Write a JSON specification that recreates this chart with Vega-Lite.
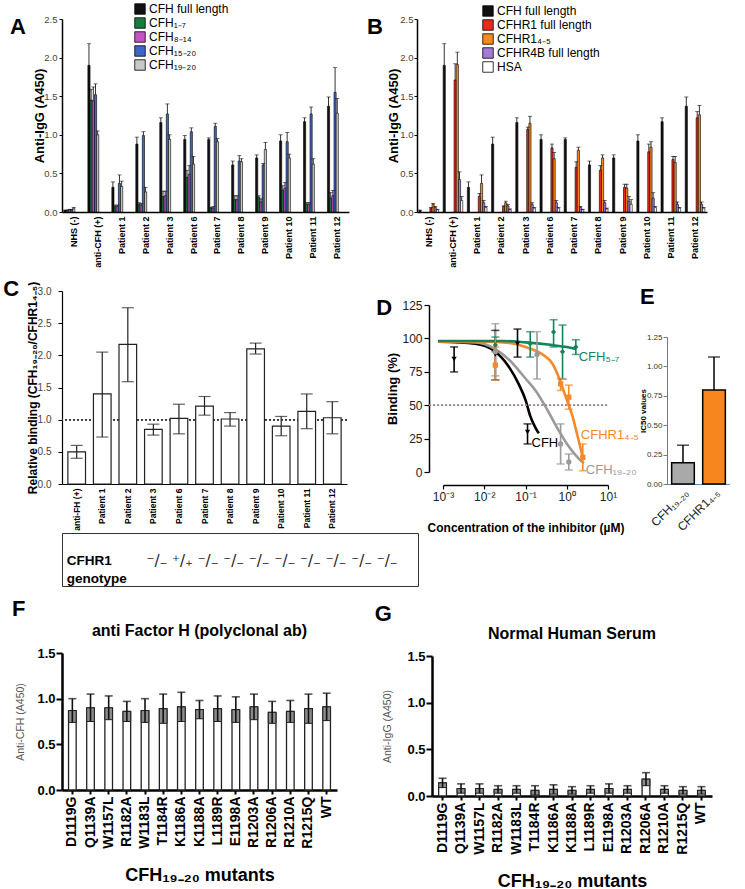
{
"$schema":"https://vega.github.io/schema/vega-lite/v6.json",
"background":"white",
"padding":{"left":3,"top":3,"right":0,"bottom":0},
"config":{
 "font":"Liberation Sans",
 "view":{"stroke":null},
 "axis":{"grid":false,"domainColor":"#000","tickColor":"#000","labelColor":"#000","titleColor":"#000","labelFont":"Liberation Sans","titleFont":"Liberation Sans","labelOverlap":false},
 "legend":{"labelFont":"Liberation Sans","labelColor":"#000"},
 "title":{"font":"Liberation Sans","color":"#000"},
 "text":{"font":"Liberation Sans"}
},
"datasets":{
 "dA":[
  {"g":"NHS (-)","s":"CFH full length","v":0.02,"e":0.025},{"g":"NHS (-)","s":"CFH₁₋₇","v":0.02,"e":0.025},{"g":"NHS (-)","s":"CFH₈₋₁₄","v":0.03,"e":0.035},{"g":"NHS (-)","s":"CFH₁₅₋₂₀","v":0.03,"e":0.035},{"g":"NHS (-)","s":"CFH₁₉₋₂₀","v":0.05,"e":0.06},
  {"g":"anti-CFH (+)","s":"CFH full length","v":1.9,"e":2.18},{"g":"anti-CFH (+)","s":"CFH₁₋₇","v":1.45,"e":1.59},{"g":"anti-CFH (+)","s":"CFH₈₋₁₄","v":1.44,"e":1.62},{"g":"anti-CFH (+)","s":"CFH₁₅₋₂₀","v":1.52,"e":1.66},{"g":"anti-CFH (+)","s":"CFH₁₉₋₂₀","v":1.0,"e":1.05},
  {"g":"Patient 1","s":"CFH full length","v":0.32,"e":0.39},{"g":"Patient 1","s":"CFH₁₋₇","v":0.07,"e":0.09},{"g":"Patient 1","s":"CFH₈₋₁₄","v":0.07,"e":0.09},{"g":"Patient 1","s":"CFH₁₅₋₂₀","v":0.37,"e":0.48},{"g":"Patient 1","s":"CFH₁₉₋₂₀","v":0.33,"e":0.40},
  {"g":"Patient 2","s":"CFH full length","v":0.88,"e":0.97},{"g":"Patient 2","s":"CFH₁₋₇","v":0.10,"e":0.12},{"g":"Patient 2","s":"CFH₈₋₁₄","v":0.09,"e":0.11},{"g":"Patient 2","s":"CFH₁₅₋₂₀","v":0.99,"e":1.04},{"g":"Patient 2","s":"CFH₁₉₋₂₀","v":0.26,"e":0.32},
  {"g":"Patient 3","s":"CFH full length","v":1.16,"e":1.22},{"g":"Patient 3","s":"CFH₁₋₇","v":0.20,"e":0.27},{"g":"Patient 3","s":"CFH₈₋₁₄","v":0.21,"e":0.27},{"g":"Patient 3","s":"CFH₁₅₋₂₀","v":1.27,"e":1.40},{"g":"Patient 3","s":"CFH₁₉₋₂₀","v":0.94,"e":1.00},
  {"g":"Patient 6","s":"CFH full length","v":0.94,"e":0.99},{"g":"Patient 6","s":"CFH₁₋₇","v":0.45,"e":0.54},{"g":"Patient 6","s":"CFH₈₋₁₄","v":0.49,"e":0.60},{"g":"Patient 6","s":"CFH₁₅₋₂₀","v":1.04,"e":1.09},{"g":"Patient 6","s":"CFH₁₉₋₂₀","v":0.62,"e":0.72},
  {"g":"Patient 7","s":"CFH full length","v":0.94,"e":0.96},{"g":"Patient 7","s":"CFH₁₋₇","v":0.05,"e":0.06},{"g":"Patient 7","s":"CFH₈₋₁₄","v":0.05,"e":0.07},{"g":"Patient 7","s":"CFH₁₅₋₂₀","v":1.11,"e":1.15},{"g":"Patient 7","s":"CFH₁₉₋₂₀","v":0.91,"e":0.95},
  {"g":"Patient 8","s":"CFH full length","v":0.61,"e":0.66},{"g":"Patient 8","s":"CFH₁₋₇","v":0.16,"e":0.21},{"g":"Patient 8","s":"CFH₈₋₁₄","v":0.16,"e":0.21},{"g":"Patient 8","s":"CFH₁₅₋₂₀","v":0.66,"e":0.73},{"g":"Patient 8","s":"CFH₁₉₋₂₀","v":0.65,"e":0.69},
  {"g":"Patient 9","s":"CFH full length","v":0.70,"e":0.74},{"g":"Patient 9","s":"CFH₁₋₇","v":0.19,"e":0.21},{"g":"Patient 9","s":"CFH₈₋₁₄","v":0.13,"e":0.17},{"g":"Patient 9","s":"CFH₁₅₋₂₀","v":0.61,"e":0.63},{"g":"Patient 9","s":"CFH₁₉₋₂₀","v":0.81,"e":0.90},
  {"g":"Patient 10","s":"CFH full length","v":0.92,"e":1.00},{"g":"Patient 10","s":"CFH₁₋₇","v":0.28,"e":0.34},{"g":"Patient 10","s":"CFH₈₋₁₄","v":0.31,"e":0.38},{"g":"Patient 10","s":"CFH₁₅₋₂₀","v":0.91,"e":1.03},{"g":"Patient 10","s":"CFH₁₉₋₂₀","v":0.70,"e":0.75},
  {"g":"Patient 11","s":"CFH full length","v":1.17,"e":1.22},{"g":"Patient 11","s":"CFH₁₋₇","v":0.10,"e":0.12},{"g":"Patient 11","s":"CFH₈₋₁₄","v":0.10,"e":0.12},{"g":"Patient 11","s":"CFH₁₅₋₂₀","v":1.27,"e":1.36},{"g":"Patient 11","s":"CFH₁₉₋₂₀","v":0.62,"e":0.69},
  {"g":"Patient 12","s":"CFH full length","v":1.37,"e":1.49},{"g":"Patient 12","s":"CFH₁₋₇","v":0.18,"e":0.25},{"g":"Patient 12","s":"CFH₈₋₁₄","v":0.21,"e":0.28},{"g":"Patient 12","s":"CFH₁₅₋₂₀","v":1.55,"e":1.87},{"g":"Patient 12","s":"CFH₁₉₋₂₀","v":1.28,"e":1.47}
 ],
 "dB":[
  {"g":"NHS (-)","s":"CFH full length","v":0.02,"e":0.025},{"g":"NHS (-)","s":"CFHR1 full length","v":0.05,"e":0.06},{"g":"NHS (-)","s":"CFHR1₄₋₅","v":0.10,"e":0.11},{"g":"NHS (-)","s":"CFHR4B full length","v":0.06,"e":0.07},{"g":"NHS (-)","s":"HSA","v":0.03,"e":0.035},
  {"g":"anti-CFH (+)","s":"CFH full length","v":1.9,"e":2.18},{"g":"anti-CFH (+)","s":"CFHR1 full length","v":1.71,"e":1.92},{"g":"anti-CFH (+)","s":"CFHR1₄₋₅","v":1.91,"e":2.07},{"g":"anti-CFH (+)","s":"CFHR4B full length","v":0.42,"e":0.52},{"g":"anti-CFH (+)","s":"HSA","v":0.15,"e":0.20},
  {"g":"Patient 1","s":"CFH full length","v":0.32,"e":0.39},{"g":"Patient 1","s":"CFHR1 full length","v":0.20,"e":0.24},{"g":"Patient 1","s":"CFHR1₄₋₅","v":0.37,"e":0.48},{"g":"Patient 1","s":"CFHR4B full length","v":0.12,"e":0.15},{"g":"Patient 1","s":"HSA","v":0.06,"e":0.07},
  {"g":"Patient 2","s":"CFH full length","v":0.88,"e":0.97},{"g":"Patient 2","s":"CFHR1 full length","v":0.07,"e":0.08},{"g":"Patient 2","s":"CFHR1₄₋₅","v":0.12,"e":0.14},{"g":"Patient 2","s":"CFHR4B full length","v":0.08,"e":0.10},{"g":"Patient 2","s":"HSA","v":0.03,"e":0.04},
  {"g":"Patient 3","s":"CFH full length","v":1.16,"e":1.22},{"g":"Patient 3","s":"CFHR1 full length","v":1.07,"e":1.10},{"g":"Patient 3","s":"CFHR1₄₋₅","v":1.15,"e":1.24},{"g":"Patient 3","s":"CFHR4B full length","v":0.10,"e":0.12},{"g":"Patient 3","s":"HSA","v":0.05,"e":0.06},
  {"g":"Patient 6","s":"CFH full length","v":0.94,"e":1.00},{"g":"Patient 6","s":"CFHR1 full length","v":0.83,"e":0.88},{"g":"Patient 6","s":"CFHR1₄₋₅","v":0.69,"e":0.77},{"g":"Patient 6","s":"CFHR4B full length","v":0.12,"e":0.15},{"g":"Patient 6","s":"HSA","v":0.05,"e":0.06},
  {"g":"Patient 7","s":"CFH full length","v":0.94,"e":0.96},{"g":"Patient 7","s":"CFHR1 full length","v":0.58,"e":0.65},{"g":"Patient 7","s":"CFHR1₄₋₅","v":0.80,"e":0.84},{"g":"Patient 7","s":"CFHR4B full length","v":0.06,"e":0.07},{"g":"Patient 7","s":"HSA","v":0.03,"e":0.035},
  {"g":"Patient 8","s":"CFH full length","v":0.61,"e":0.66},{"g":"Patient 8","s":"CFHR1 full length","v":0.54,"e":0.60},{"g":"Patient 8","s":"CFHR1₄₋₅","v":0.70,"e":0.74},{"g":"Patient 8","s":"CFHR4B full length","v":0.12,"e":0.15},{"g":"Patient 8","s":"HSA","v":0.04,"e":0.05},
  {"g":"Patient 9","s":"CFH full length","v":0.70,"e":0.74},{"g":"Patient 9","s":"CFHR1 full length","v":0.32,"e":0.36},{"g":"Patient 9","s":"CFHR1₄₋₅","v":0.31,"e":0.36},{"g":"Patient 9","s":"CFHR4B full length","v":0.14,"e":0.20},{"g":"Patient 9","s":"HSA","v":0.10,"e":0.16},
  {"g":"Patient 10","s":"CFH full length","v":0.92,"e":1.00},{"g":"Patient 10","s":"CFHR1 full length","v":0.78,"e":0.88},{"g":"Patient 10","s":"CFHR1₄₋₅","v":0.84,"e":0.91},{"g":"Patient 10","s":"CFHR4B full length","v":0.18,"e":0.25},{"g":"Patient 10","s":"HSA","v":0.06,"e":0.07},
  {"g":"Patient 11","s":"CFH full length","v":1.17,"e":1.22},{"g":"Patient 11","s":"CFHR1 full length","v":0.68,"e":0.72},{"g":"Patient 11","s":"CFHR1₄₋₅","v":0.64,"e":0.72},{"g":"Patient 11","s":"CFHR4B full length","v":0.10,"e":0.13},{"g":"Patient 11","s":"HSA","v":0.05,"e":0.06},
  {"g":"Patient 12","s":"CFH full length","v":1.37,"e":1.49},{"g":"Patient 12","s":"CFHR1 full length","v":1.22,"e":1.30},{"g":"Patient 12","s":"CFHR1₄₋₅","v":1.26,"e":1.38},{"g":"Patient 12","s":"CFHR4B full length","v":0.10,"e":0.13},{"g":"Patient 12","s":"HSA","v":0.05,"e":0.06}
 ],
 "dC":[
  {"g":"anti-FH (+)","v":0.5,"lo":0.4,"hi":0.6},
  {"g":"Patient 1","v":1.4,"lo":0.73,"hi":2.05},
  {"g":"Patient 2","v":2.17,"lo":1.59,"hi":2.74},
  {"g":"Patient 3","v":0.85,"lo":0.76,"hi":0.93},
  {"g":"Patient 6","v":1.02,"lo":0.78,"hi":1.24},
  {"g":"Patient 7","v":1.21,"lo":1.07,"hi":1.36},
  {"g":"Patient 8","v":1.01,"lo":0.9,"hi":1.11},
  {"g":"Patient 9","v":2.1,"lo":2.02,"hi":2.19},
  {"g":"Patient 10","v":0.9,"lo":0.75,"hi":1.05},
  {"g":"Patient 11","v":1.13,"lo":0.86,"hi":1.4},
  {"g":"Patient 12","v":1.03,"lo":0.78,"hi":1.28}
 ],
 "dGeno":[
  {"g":"hdr","row":"CFHR1","t":"CFHR1"},
  {"g":"hdr","row":"genotype","t":"genotype"},
  {"g":"Patient 1","row":"CFHR1","t":"⁻/₋"},
  {"g":"Patient 2","row":"CFHR1","t":"⁺/₊"},
  {"g":"Patient 3","row":"CFHR1","t":"⁻/₋"},
  {"g":"Patient 6","row":"CFHR1","t":"⁻/₋"},
  {"g":"Patient 7","row":"CFHR1","t":"⁻/₋"},
  {"g":"Patient 8","row":"CFHR1","t":"⁻/₋"},
  {"g":"Patient 9","row":"CFHR1","t":"⁻/₋"},
  {"g":"Patient 10","row":"CFHR1","t":"⁻/₋"},
  {"g":"Patient 11","row":"CFHR1","t":"⁻/₋"},
  {"g":"Patient 12","row":"CFHR1","t":"⁻/₋"}
 ],
 "dCurve":[
  {"s":"CFH","c":0.00076,"b":97.5},{"s":"CFH","c":0.006,"b":96},{"s":"CFH","c":0.0186,"b":90},{"s":"CFH","c":0.039,"b":79},{"s":"CFH","c":0.068,"b":66},{"s":"CFH","c":0.1,"b":54},{"s":"CFH","c":0.13,"b":42},{"s":"CFH","c":0.175,"b":33},{"s":"CFH","c":0.21,"b":29},
  {"s":"CFH₁₉₋₂₀","c":0.00076,"b":97.5},{"s":"CFH₁₉₋₂₀","c":0.006,"b":97},{"s":"CFH₁₉₋₂₀","c":0.0186,"b":92},{"s":"CFH₁₉₋₂₀","c":0.04,"b":84},{"s":"CFH₁₉₋₂₀","c":0.1,"b":70},{"s":"CFH₁₉₋₂₀","c":0.175,"b":61},{"s":"CFH₁₉₋₂₀","c":0.31,"b":48.6},{"s":"CFH₁₉₋₂₀","c":0.64,"b":31},{"s":"CFH₁₉₋₂₀","c":1.12,"b":19},{"s":"CFH₁₉₋₂₀","c":1.95,"b":10},{"s":"CFH₁₉₋₂₀","c":2.6,"b":6.5},
  {"s":"CFHR1₄₋₅","c":0.00076,"b":97.5},{"s":"CFHR1₄₋₅","c":0.01,"b":97.5},{"s":"CFHR1₄₋₅","c":0.04,"b":96.5},{"s":"CFHR1₄₋₅","c":0.1,"b":93.5},{"s":"CFHR1₄₋₅","c":0.26,"b":88},{"s":"CFHR1₄₋₅","c":0.45,"b":81},{"s":"CFHR1₄₋₅","c":0.64,"b":71},{"s":"CFHR1₄₋₅","c":0.95,"b":56},{"s":"CFHR1₄₋₅","c":1.4,"b":41},{"s":"CFHR1₄₋₅","c":1.86,"b":26},{"s":"CFHR1₄₋₅","c":2.45,"b":11},
  {"s":"CFH₅₋₇","c":0.00076,"b":98},{"s":"CFH₅₋₇","c":0.03,"b":98},{"s":"CFH₅₋₇","c":0.1,"b":97},{"s":"CFH₅₋₇","c":0.45,"b":95},{"s":"CFH₅₋₇","c":1.0,"b":93.5},{"s":"CFH₅₋₇","c":1.66,"b":92}
 ],
 "dPts":[
  {"s":"CFH","c":0.00186,"m":84.6,"lo":74.9,"hi":93.6},{"s":"CFH","c":0.0186,"m":88,"lo":69,"hi":106},{"s":"CFH","c":0.064,"m":96,"lo":86,"hi":107},{"s":"CFH","c":0.112,"m":30,"lo":21,"hi":36},
  {"s":"CFH₅₋₇","c":0.0186,"m":95,"lo":90,"hi":101},{"s":"CFH₅₋₇","c":0.13,"m":96,"lo":86,"hi":105},{"s":"CFH₅₋₇","c":0.48,"m":104.8,"lo":93.6,"hi":114},{"s":"CFH₅₋₇","c":0.79,"m":90,"lo":69.6,"hi":110},{"s":"CFH₅₋₇","c":1.66,"m":93.6,"lo":88,"hi":99},
  {"s":"CFH₁₉₋₂₀","c":0.0186,"m":90,"lo":72,"hi":111},{"s":"CFH₁₉₋₂₀","c":0.19,"m":88,"lo":69.6,"hi":105},{"s":"CFH₁₉₋₂₀","c":0.71,"m":21,"lo":6,"hi":36},{"s":"CFH₁₉₋₂₀","c":1.12,"m":7.5,"lo":1.5,"hi":13.5},
  {"s":"CFHR1₄₋₅","c":0.0186,"m":80,"lo":69,"hi":93.5},{"s":"CFHR1₄₋₅","c":0.71,"m":66,"lo":61,"hi":70},{"s":"CFHR1₄₋₅","c":1.12,"m":56,"lo":47,"hi":65},{"s":"CFHR1₄₋₅","c":2.45,"m":11,"lo":1,"hi":21}
 ],
 "dLab":[
  {"s":"CFH₅₋₇","c":1.95,"b":86,"t":"CFH₅₋₇"},
  {"s":"CFHR1₄₋₅","c":2.2,"b":28,"t":"CFHR1₄₋₅"},
  {"s":"CFH","c":0.14,"b":22,"t":"CFH"},
  {"s":"CFH₁₉₋₂₀","c":2.9,"b":1.5,"t":"CFH₁₉₋₂₀"}
 ],
 "dE":[
  {"g":"CFH₁₉₋₂₀","v":0.18,"e":0.33},
  {"g":"CFHR1₄₋₅","v":0.8,"e":1.08}
 ],
 "dF":[
  {"g":"D1119G","v":0.87,"lo":0.74,"hi":1.0},{"g":"Q1139A","v":0.90,"lo":0.75,"hi":1.05},{"g":"W1157L","v":0.90,"lo":0.77,"hi":1.03},{"g":"R1182A","v":0.86,"lo":0.75,"hi":0.97},{"g":"W1183L","v":0.87,"lo":0.74,"hi":1.0},
  {"g":"T1184R","v":0.89,"lo":0.73,"hi":1.05},{"g":"K1186A","v":0.91,"lo":0.75,"hi":1.07},{"g":"K1188A","v":0.88,"lo":0.78,"hi":0.98},{"g":"L1189R","v":0.89,"lo":0.75,"hi":1.03},{"g":"E1198A","v":0.88,"lo":0.74,"hi":1.02},
  {"g":"R1203A","v":0.91,"lo":0.77,"hi":1.05},{"g":"R1206A","v":0.85,"lo":0.73,"hi":0.97},{"g":"R1210A","v":0.86,"lo":0.74,"hi":0.98},{"g":"R1215Q","v":0.89,"lo":0.73,"hi":1.05},{"g":"WT","v":0.91,"lo":0.76,"hi":1.06}
 ],
 "dG":[
  {"g":"D1119G","v":0.14,"lo":0.09,"hi":0.19},{"g":"Q1139A","v":0.08,"lo":0.03,"hi":0.13},{"g":"W1157L","v":0.08,"lo":0.03,"hi":0.13},{"g":"R1182A","v":0.07,"lo":0.03,"hi":0.11},{"g":"W1183L","v":0.07,"lo":0.03,"hi":0.11},
  {"g":"T1184R","v":0.06,"lo":0.01,"hi":0.11},{"g":"K1186A","v":0.07,"lo":0.02,"hi":0.12},{"g":"K1188A","v":0.06,"lo":0.02,"hi":0.10},{"g":"L1189R","v":0.07,"lo":0.03,"hi":0.11},{"g":"E1198A","v":0.08,"lo":0.03,"hi":0.13},
  {"g":"R1203A","v":0.07,"lo":0.03,"hi":0.11},{"g":"R1206A","v":0.18,"lo":0.11,"hi":0.25},{"g":"R1210A","v":0.07,"lo":0.03,"hi":0.11},{"g":"R1215Q","v":0.06,"lo":0.02,"hi":0.10},{"g":"WT","v":0.06,"lo":0.02,"hi":0.10}
 ]
},
"spacing":11,
"resolve":{"scale":{"color":"independent","shape":"independent"},"legend":{"color":"independent","shape":"independent"}},
"vconcat":[
 {"spacing":10,"resolve":{"scale":{"color":"independent","shape":"independent"},"legend":{"color":"independent","shape":"independent"}},
  "vconcat":[
   {"hconcat":[
     {"width":287,"height":193,
      "title":{"text":"A","orient":"left","anchor":"end","frame":"group","angle":0,"align":"right","baseline":"middle","offset":-8,"dy":8,"fontSize":22,"fontWeight":"bold"},
      "data":{"name":"dA"},
      "encoding":{
       "x":{"field":"g","type":"nominal","scale":{"domain":["NHS (-)","anti-CFH (+)","Patient 1","Patient 2","Patient 3","Patient 6","Patient 7","Patient 8","Patient 9","Patient 10","Patient 11","Patient 12"],"paddingInner":0.18,"paddingOuter":0.08},"axis":{"title":null,"labelAngle":-90,"labelFontSize":9,"labelFontWeight":"bold","ticks":false,"labelPadding":4,"domainWidth":1.5}},
       "xOffset":{"field":"s","type":"nominal","scale":{"domain":["CFH full length","CFH₁₋₇","CFH₈₋₁₄","CFH₁₅₋₂₀","CFH₁₉₋₂₀"],"paddingInner":0,"paddingOuter":0}}
      },
      "layer":[
       {"mark":{"type":"bar","stroke":"#000","strokeWidth":0.6},
        "encoding":{
         "y":{"field":"v","type":"quantitative","scale":{"domain":[0,2.5],"range":[193,0],"nice":false},"axis":{"values":[0,0.5,1,1.5,2,2.5],"tickCount":6,"format":".1f","labelOverlap":false,"title":"Anti-IgG (A450)","titleFontSize":13,"titleFontWeight":"bold","titlePadding":-3,"labelFontSize":9.5,"labelColor":"#444","tickSize":3,"labelPadding":2,"domainWidth":1.5}},
         "color":{"field":"s","type":"nominal","scale":{"domain":["CFH full length","CFH₁₋₇","CFH₈₋₁₄","CFH₁₅₋₂₀","CFH₁₉₋₂₀"],"range":["#111111","#1b7a3e","#c354c6","#3e66c9","#c8c8c8"]},
          "legend":{"orient":"none","legendX":72,"legendY":-16,"title":null,"labelFontSize":12,"labelLimit":220,"symbolType":"square","symbolSize":110,"symbolStrokeColor":"#000","symbolStrokeWidth":0.8,"rowPadding":0,"labelOffset":3}}
        }},
       {"mark":{"type":"rule","color":"#000","strokeWidth":0.8},
        "encoding":{"y":{"field":"v","type":"quantitative","scale":{"domain":[0,2.5],"range":[193,0],"nice":false},"axis":{"values":[0,0.5,1,1.5,2,2.5],"tickCount":6,"format":".1f","labelOverlap":false,"title":"Anti-IgG (A450)","titleFontSize":13,"titleFontWeight":"bold","titlePadding":-3,"labelFontSize":9.5,"labelColor":"#444","tickSize":3,"labelPadding":2,"domainWidth":1.5}},"y2":{"field":"e"}}},
       {"mark":{"type":"tick","color":"#000","thickness":0.8,"size":4,"orient":"horizontal"},
        "encoding":{"y":{"field":"e","type":"quantitative","scale":{"domain":[0,2.5],"range":[193,0],"nice":false},"axis":{"values":[0,0.5,1,1.5,2,2.5],"tickCount":6,"format":".1f","labelOverlap":false,"title":"Anti-IgG (A450)","titleFontSize":13,"titleFontWeight":"bold","titlePadding":-3,"labelFontSize":9.5,"labelColor":"#444","tickSize":3,"labelPadding":2,"domainWidth":1.5}}}}
      ]},
     {"width":290,"height":193,
      "title":{"text":"B","orient":"left","anchor":"end","frame":"group","angle":0,"align":"right","baseline":"middle","offset":-11,"dy":8,"fontSize":22,"fontWeight":"bold"},
      "data":{"name":"dB"},
      "encoding":{
       "x":{"field":"g","type":"nominal","scale":{"domain":["NHS (-)","anti-CFH (+)","Patient 1","Patient 2","Patient 3","Patient 6","Patient 7","Patient 8","Patient 9","Patient 10","Patient 11","Patient 12"],"paddingInner":0.18,"paddingOuter":0.08},"axis":{"title":null,"labelAngle":-90,"labelFontSize":9,"labelFontWeight":"bold","ticks":false,"labelPadding":4,"domainWidth":1.5}},
       "xOffset":{"field":"s","type":"nominal","scale":{"domain":["CFH full length","CFHR1 full length","CFHR1₄₋₅","CFHR4B full length","HSA"],"paddingInner":0,"paddingOuter":0}}
      },
      "layer":[
       {"mark":{"type":"bar","stroke":"#000","strokeWidth":0.6},
        "encoding":{
         "y":{"field":"v","type":"quantitative","scale":{"domain":[0,2.5],"range":[193,0],"nice":false},"axis":{"values":[0,0.5,1,1.5,2,2.5],"tickCount":6,"format":".1f","labelOverlap":false,"title":"Anti-IgG (A450)","titleFontSize":13,"titleFontWeight":"bold","titlePadding":-1,"labelFontSize":9.5,"labelColor":"#444","tickSize":3,"labelPadding":1,"domainWidth":1.5}},
         "color":{"field":"s","type":"nominal","scale":{"domain":["CFH full length","CFHR1 full length","CFHR1₄₋₅","CFHR4B full length","HSA"],"range":["#111111","#e8291c","#f7891f","#a47bd6","#ffffff"]},
          "legend":{"orient":"none","legendX":65,"legendY":-14,"title":null,"labelFontSize":12,"labelLimit":220,"symbolType":"square","symbolSize":110,"symbolStrokeColor":"#000","symbolStrokeWidth":0.8,"rowPadding":0,"labelOffset":3}}
        }},
       {"mark":{"type":"rule","color":"#000","strokeWidth":0.8},
        "encoding":{"y":{"field":"v","type":"quantitative","scale":{"domain":[0,2.5],"range":[193,0],"nice":false},"axis":{"values":[0,0.5,1,1.5,2,2.5],"tickCount":6,"format":".1f","labelOverlap":false,"title":"Anti-IgG (A450)","titleFontSize":13,"titleFontWeight":"bold","titlePadding":-1,"labelFontSize":9.5,"labelColor":"#444","tickSize":3,"labelPadding":1,"domainWidth":1.5}},"y2":{"field":"e"}}},
       {"mark":{"type":"tick","color":"#000","thickness":0.8,"size":4,"orient":"horizontal"},
        "encoding":{"y":{"field":"e","type":"quantitative","scale":{"domain":[0,2.5],"range":[193,0],"nice":false},"axis":{"values":[0,0.5,1,1.5,2,2.5],"tickCount":6,"format":".1f","labelOverlap":false,"title":"Anti-IgG (A450)","titleFontSize":13,"titleFontWeight":"bold","titlePadding":-1,"labelFontSize":9.5,"labelColor":"#444","tickSize":3,"labelPadding":1,"domainWidth":1.5}}}}
      ]}
    ],
    "spacing":18,
    "resolve":{"scale":{"color":"independent","shape":"independent"},"legend":{"color":"independent","shape":"independent"}}},
   {"spacing":-8,"resolve":{"scale":{"color":"independent","shape":"independent"},"legend":{"color":"independent","shape":"independent"}},
    "vconcat":[
     {"hconcat":[
       {"width":285,"height":193,
        "title":{"text":"C","orient":"left","anchor":"end","frame":"group","angle":0,"align":"right","baseline":"middle","offset":-9,"dy":-2,"fontSize":22,"fontWeight":"bold"},
        "data":{"name":"dC"},
        "layer":[
         {"mark":{"type":"rule","strokeDash":[2,2],"color":"#333","strokeWidth":1},
          "encoding":{"y":{"datum":1,"type":"quantitative","scale":{"domain":[0,3],"range":[193,0],"nice":false},"axis":{"values":[0,0.5,1,1.5,2,2.5,3],"tickCount":7,"format":".1f","labelOverlap":false,"title":"Relative binding (CFH₁₉₋₂₀/CFHR1₄₋₅)","titleFontSize":12,"titleFontWeight":"bold","titlePadding":-2,"labelFontSize":10,"labelColor":"#444","tickSize":4,"labelPadding":7,"domainWidth":1.2}}}},
         {"mark":{"type":"bar","fill":"#ffffff","stroke":"#222","strokeWidth":1.2},
          "encoding":{
           "x":{"field":"g","type":"nominal","scale":{"domain":["anti-FH (+)","Patient 1","Patient 2","Patient 3","Patient 6","Patient 7","Patient 8","Patient 9","Patient 10","Patient 11","Patient 12"],"paddingInner":0.31,"paddingOuter":0.23},"axis":{"title":null,"labelAngle":-90,"labelFontSize":8.5,"labelFontWeight":"bold","ticks":false,"labelPadding":4,"domainWidth":1.2}},
           "y":{"field":"v","type":"quantitative","scale":{"domain":[0,3],"range":[193,0],"nice":false},"axis":{"values":[0,0.5,1,1.5,2,2.5,3],"tickCount":7,"format":".1f","labelOverlap":false,"title":"Relative binding (CFH₁₉₋₂₀/CFHR1₄₋₅)","titleFontSize":12,"titleFontWeight":"bold","titlePadding":-2,"labelFontSize":10,"labelColor":"#444","tickSize":4,"labelPadding":7,"domainWidth":1.2}}}},
         {"mark":{"type":"rule","color":"#222","strokeWidth":1.2},
          "encoding":{
           "x":{"field":"g","type":"nominal","scale":{"domain":["anti-FH (+)","Patient 1","Patient 2","Patient 3","Patient 6","Patient 7","Patient 8","Patient 9","Patient 10","Patient 11","Patient 12"],"paddingInner":0.31,"paddingOuter":0.23},"axis":{"title":null,"labelAngle":-90,"labelFontSize":8.5,"labelFontWeight":"bold","ticks":false,"labelPadding":4,"domainWidth":1.2}},
           "y":{"field":"lo","type":"quantitative","scale":{"domain":[0,3],"range":[193,0],"nice":false},"axis":{"values":[0,0.5,1,1.5,2,2.5,3],"tickCount":7,"format":".1f","labelOverlap":false,"title":"Relative binding (CFH₁₉₋₂₀/CFHR1₄₋₅)","titleFontSize":12,"titleFontWeight":"bold","titlePadding":-2,"labelFontSize":10,"labelColor":"#444","tickSize":4,"labelPadding":7,"domainWidth":1.2}},"y2":{"field":"hi"}}},
         {"mark":{"type":"tick","color":"#222","thickness":1.2,"size":12,"orient":"horizontal"},
          "encoding":{
           "x":{"field":"g","type":"nominal","scale":{"domain":["anti-FH (+)","Patient 1","Patient 2","Patient 3","Patient 6","Patient 7","Patient 8","Patient 9","Patient 10","Patient 11","Patient 12"],"paddingInner":0.31,"paddingOuter":0.23},"axis":{"title":null,"labelAngle":-90,"labelFontSize":8.5,"labelFontWeight":"bold","ticks":false,"labelPadding":4,"domainWidth":1.2}},
           "y":{"field":"lo","type":"quantitative","scale":{"domain":[0,3],"range":[193,0],"nice":false},"axis":{"values":[0,0.5,1,1.5,2,2.5,3],"tickCount":7,"format":".1f","labelOverlap":false,"title":"Relative binding (CFH₁₉₋₂₀/CFHR1₄₋₅)","titleFontSize":12,"titleFontWeight":"bold","titlePadding":-2,"labelFontSize":10,"labelColor":"#444","tickSize":4,"labelPadding":7,"domainWidth":1.2}}}},
         {"mark":{"type":"tick","color":"#222","thickness":1.2,"size":12,"orient":"horizontal"},
          "encoding":{
           "x":{"field":"g","type":"nominal","scale":{"domain":["anti-FH (+)","Patient 1","Patient 2","Patient 3","Patient 6","Patient 7","Patient 8","Patient 9","Patient 10","Patient 11","Patient 12"],"paddingInner":0.31,"paddingOuter":0.23},"axis":{"title":null,"labelAngle":-90,"labelFontSize":8.5,"labelFontWeight":"bold","ticks":false,"labelPadding":4,"domainWidth":1.2}},
           "y":{"field":"hi","type":"quantitative","scale":{"domain":[0,3],"range":[193,0],"nice":false},"axis":{"values":[0,0.5,1,1.5,2,2.5,3],"tickCount":7,"format":".1f","labelOverlap":false,"title":"Relative binding (CFH₁₉₋₂₀/CFHR1₄₋₅)","titleFontSize":12,"titleFontWeight":"bold","titlePadding":-2,"labelFontSize":10,"labelColor":"#444","tickSize":4,"labelPadding":7,"domainWidth":1.2}}}}
        ]},
       {"hconcat":[
         {"width":165,"height":193,
          "title":{"text":"D","orient":"left","anchor":"end","frame":"group","angle":0,"align":"right","baseline":"middle","offset":-21,"dy":17,"fontSize":22,"fontWeight":"bold"},
          "encoding":{
           "x":{"field":"c","type":"quantitative","scale":{"type":"log","domain":[0.001,10],"nice":false},"axis":{"values":[0.001,0.01,0.1,1,10],"labelExpr":"datum.value < 0.005 ? '10⁻³' : datum.value < 0.05 ? '10⁻²' : datum.value < 0.5 ? '10⁻¹' : datum.value < 5 ? '10⁰' : '10¹'","labelFlush":false,"labelOverlap":false,"title":"Concentration of the inhibitor (µM)","titleFontSize":12,"titleFontWeight":"bold","titlePadding":20,"labelFontSize":12,"labelColor":"#222","offset":1,"tickSize":4,"domainWidth":1.5,"tickWidth":1.2}},
           "color":{"field":"s","type":"nominal","scale":{"domain":["CFH","CFH₁₉₋₂₀","CFHR1₄₋₅","CFH₅₋₇"],"range":["#000000","#9a9a9a","#f58a2a","#14855a"]},"legend":null}
          },
          "layer":[
           {"data":{"name":"dCurve"},
            "mark":{"type":"line","strokeWidth":2.6,"interpolate":"monotone"},
            "encoding":{"y":{"field":"b","type":"quantitative","scale":{"domain":[0,125],"range":[181,14],"nice":false,"zero":false},"axis":{"values":[0,25,50,75,100,125],"tickCount":6,"labelOverlap":false,"title":"Binding (%)","titleFontSize":13,"titleFontWeight":"bold","titlePadding":2,"labelFontSize":12,"labelColor":"#222","offset":14,"tickSize":5,"labelPadding":2,"domainWidth":1.5,"tickWidth":1.2}}}},
           {"data":{"name":"dPts"},
            "mark":{"type":"rule","strokeWidth":1.6},
            "encoding":{"y":{"field":"lo","type":"quantitative","scale":{"domain":[0,125],"range":[181,14],"nice":false,"zero":false},"axis":{"values":[0,25,50,75,100,125],"tickCount":6,"labelOverlap":false,"title":"Binding (%)","titleFontSize":13,"titleFontWeight":"bold","titlePadding":2,"labelFontSize":12,"labelColor":"#222","offset":14,"tickSize":5,"labelPadding":2,"domainWidth":1.5,"tickWidth":1.2}},"y2":{"field":"hi"}}},
           {"data":{"name":"dPts"},
            "mark":{"type":"tick","thickness":1.6,"size":8,"orient":"horizontal"},
            "encoding":{"y":{"field":"lo","type":"quantitative","scale":{"domain":[0,125],"range":[181,14],"nice":false,"zero":false},"axis":{"values":[0,25,50,75,100,125],"tickCount":6,"labelOverlap":false,"title":"Binding (%)","titleFontSize":13,"titleFontWeight":"bold","titlePadding":2,"labelFontSize":12,"labelColor":"#222","offset":14,"tickSize":5,"labelPadding":2,"domainWidth":1.5,"tickWidth":1.2}}}},
           {"data":{"name":"dPts"},
            "mark":{"type":"tick","thickness":1.6,"size":8,"orient":"horizontal"},
            "encoding":{"y":{"field":"hi","type":"quantitative","scale":{"domain":[0,125],"range":[181,14],"nice":false,"zero":false},"axis":{"values":[0,25,50,75,100,125],"tickCount":6,"labelOverlap":false,"title":"Binding (%)","titleFontSize":13,"titleFontWeight":"bold","titlePadding":2,"labelFontSize":12,"labelColor":"#222","offset":14,"tickSize":5,"labelPadding":2,"domainWidth":1.5,"tickWidth":1.2}}}},
           {"data":{"name":"dPts"},
            "mark":{"type":"point","filled":true,"size":28,"opacity":1},
            "encoding":{"y":{"field":"m","type":"quantitative","scale":{"domain":[0,125],"range":[181,14],"nice":false,"zero":false},"axis":{"values":[0,25,50,75,100,125],"tickCount":6,"labelOverlap":false,"title":"Binding (%)","titleFontSize":13,"titleFontWeight":"bold","titlePadding":2,"labelFontSize":12,"labelColor":"#222","offset":14,"tickSize":5,"labelPadding":2,"domainWidth":1.5,"tickWidth":1.2}},
             "shape":{"field":"s","type":"nominal","scale":{"domain":["CFH","CFH₁₉₋₂₀","CFHR1₄₋₅","CFH₅₋₇"],"range":["triangle-down","circle","square","diamond"]},"legend":null}}},
           {"data":{"name":"dLab"},
            "mark":{"type":"text","align":"left","baseline":"middle","fontSize":13},
            "encoding":{"y":{"field":"b","type":"quantitative","scale":{"domain":[0,125],"range":[181,14],"nice":false,"zero":false},"axis":{"values":[0,25,50,75,100,125],"tickCount":6,"labelOverlap":false,"title":"Binding (%)","titleFontSize":13,"titleFontWeight":"bold","titlePadding":2,"labelFontSize":12,"labelColor":"#222","offset":14,"tickSize":5,"labelPadding":2,"domainWidth":1.5,"tickWidth":1.2}},"text":{"field":"t"}}},
           {"data":{"name":"dLab"},
            "mark":{"type":"rule","strokeDash":[2,2],"color":"#a08080","strokeWidth":1},
            "encoding":{"x":{"datum":0.00046,"type":"quantitative"},"x2":{"datum":10},"color":{"value":"#a08080"},
             "y":{"datum":50,"type":"quantitative","scale":{"domain":[0,125],"range":[181,14],"nice":false,"zero":false},"axis":{"values":[0,25,50,75,100,125],"tickCount":6,"labelOverlap":false,"title":"Binding (%)","titleFontSize":13,"titleFontWeight":"bold","titlePadding":2,"labelFontSize":12,"labelColor":"#222","offset":14,"tickSize":5,"labelPadding":2,"domainWidth":1.5,"tickWidth":1.2}}}}
          ]},
         {"width":63,"height":193,
          "title":{"text":"E","orient":"left","anchor":"end","frame":"group","angle":0,"align":"right","baseline":"middle","offset":-30,"dy":6,"fontSize":22,"fontWeight":"bold"},
          "data":{"name":"dE"},
          "encoding":{
           "x":{"field":"g","type":"nominal","scale":{"domain":["CFH₁₉₋₂₀","CFHR1₄₋₅"],"paddingInner":0.27,"paddingOuter":0.15},"axis":{"title":null,"labelAngle":-45,"labelFontSize":12,"labelColor":"#222","ticks":false,"labelPadding":3,"domainWidth":1.2,"domainColor":"#5a8fb0"}}
          },
          "layer":[
           {"mark":{"type":"bar","stroke":"#000","strokeWidth":1.5},
            "encoding":{
             "y":{"field":"v","type":"quantitative","scale":{"domain":[0,1.25],"range":[193,46],"nice":false},"axis":{"values":[0,0.25,0.5,0.75,1,1.25],"tickCount":6,"format":".2f","labelOverlap":false,"title":"IC50 values","titleFontSize":8,"titleFontWeight":"bold","titlePadding":-1,"labelFontSize":8,"labelColor":"#333","tickSize":4,"labelPadding":1,"domainWidth":1,"domainColor":"#777","tickColor":"#777"}},
             "color":{"field":"g","type":"nominal","scale":{"domain":["CFH₁₉₋₂₀","CFHR1₄₋₅"],"range":["#a9a9a9","#f7861e"]},"legend":null}
            }},
           {"mark":{"type":"rule","color":"#000","strokeWidth":1.5},
            "encoding":{"y":{"field":"v","type":"quantitative","scale":{"domain":[0,1.25],"range":[193,46],"nice":false},"axis":{"values":[0,0.25,0.5,0.75,1,1.25],"tickCount":6,"format":".2f","labelOverlap":false,"title":"IC50 values","titleFontSize":8,"titleFontWeight":"bold","titlePadding":-1,"labelFontSize":8,"labelColor":"#333","tickSize":4,"labelPadding":1,"domainWidth":1,"domainColor":"#777","tickColor":"#777"}},"y2":{"field":"e"}}},
           {"mark":{"type":"tick","color":"#000","thickness":1.5,"size":12,"orient":"horizontal"},
            "encoding":{"y":{"field":"e","type":"quantitative","scale":{"domain":[0,1.25],"range":[193,46],"nice":false},"axis":{"values":[0,0.25,0.5,0.75,1,1.25],"tickCount":6,"format":".2f","labelOverlap":false,"title":"IC50 values","titleFontSize":8,"titleFontWeight":"bold","titlePadding":-1,"labelFontSize":8,"labelColor":"#333","tickSize":4,"labelPadding":1,"domainWidth":1,"domainColor":"#777","tickColor":"#777"}}}}
          ]}
        ],
        "spacing":0,
        "resolve":{"scale":{"color":"independent","shape":"independent"},"legend":{"color":"independent","shape":"independent"}}}
      ],
      "spacing":28,
      "resolve":{"scale":{"color":"independent","shape":"independent"},"legend":{"color":"independent","shape":"independent"}}},
     {"width":356,"height":53,
      "view":{"stroke":"#333","strokeWidth":1},
      "data":{"name":"dGeno"},
      "encoding":{
       "x":{"field":"g","type":"nominal","scale":{"type":"band","domain":["hdr","anti-FH (+)","Patient 1","Patient 2","Patient 3","Patient 6","Patient 7","Patient 8","Patient 9","Patient 10","Patient 11","Patient 12"],"range":[29,340],"paddingInner":0.31,"paddingOuter":0.23},"axis":null},
       "y":{"field":"row","type":"nominal","scale":{"domain":["CFHR1","genotype"],"range":[28,46],"padding":0},"axis":null},
       "text":{"field":"t"}
      },
      "layer":[
       {"transform":[{"filter":"datum.g == 'hdr'"}],
        "mark":{"type":"text","align":"left","dx":-39,"fontSize":13.5,"fontWeight":"bold","color":"#000"}},
       {"transform":[{"filter":"datum.g != 'hdr'"}],
        "mark":{"type":"text","fontSize":15,"font":"DejaVu Sans","color":"#222"}}
      ]}
    ]}
  ]},
 {"hconcat":[
   {"title":{"text":"F","orient":"left","anchor":"end","frame":"bounds","angle":0,"align":"right","baseline":"top","offset":-23,"dy":-24,"fontSize":22,"fontWeight":"bold"},
    "resolve":{"scale":{"color":"independent","shape":"independent"},"legend":{"color":"independent","shape":"independent"}},
    "hconcat":[
     {"width":275,"height":137,
      "title":{"text":"anti Factor H (polyclonal ab)","fontSize":16,"fontWeight":"bold","offset":8},
      "data":{"name":"dF"},
      "encoding":{
       "x":{"field":"g","type":"nominal","scale":{"domain":["D1119G","Q1139A","W1157L","R1182A","W1183L","T1184R","K1186A","K1188A","L1189R","E1198A","R1203A","R1206A","R1210A","R1215Q","WT"],"paddingInner":0.58,"paddingOuter":0.36},"axis":{"title":"CFH₁₉₋₂₀ mutants","titleFontSize":18,"titleFontWeight":"bold","titlePadding":18,"labelAngle":-90,"labelFontSize":14,"labelFontWeight":"bold","tickSize":4,"tickWidth":2,"domainWidth":2.5,"labelPadding":2}}
      },
      "layer":[
       {"mark":{"type":"bar","fill":"#ffffff","stroke":"#222","strokeWidth":1.3},
        "encoding":{"y":{"field":"v","type":"quantitative","scale":{"domain":[0,1.5],"nice":false},"axis":{"values":[0,0.5,1,1.5],"format":".1f","labelOverlap":false,"title":"Anti-CFH (A450)","titleFontSize":10.5,"titleFontWeight":"normal","titleColor":"#555","titlePadding":11,"labelFontSize":13,"labelFontWeight":"bold","tickSize":6,"tickWidth":2,"domainWidth":2.5,"labelPadding":1}}}},
       {"mark":{"type":"bar","fill":"#8c8c8c","stroke":"#222","strokeWidth":1},
        "encoding":{"y":{"field":"lo","type":"quantitative","scale":{"domain":[0,1.5],"nice":false}},"y2":{"field":"v"}}},
       {"mark":{"type":"rule","color":"#111","strokeWidth":1.6},
        "encoding":{"y":{"field":"lo","type":"quantitative","scale":{"domain":[0,1.5],"nice":false}},"y2":{"field":"hi"}}},
       {"mark":{"type":"tick","color":"#111","thickness":1.6,"size":8,"orient":"horizontal"},
        "encoding":{"y":{"field":"hi","type":"quantitative","scale":{"domain":[0,1.5],"nice":false}}}}
      ]}
    ]},
   {"title":{"text":"G","orient":"left","anchor":"end","frame":"bounds","angle":0,"align":"right","baseline":"top","offset":-26,"dy":-22,"fontSize":22,"fontWeight":"bold"},
    "resolve":{"scale":{"color":"independent","shape":"independent"},"legend":{"color":"independent","shape":"independent"}},
    "hconcat":[
     {"width":280,"height":143,
      "title":{"text":"Normal Human Serum","fontSize":16,"fontWeight":"bold","offset":8},
      "data":{"name":"dG"},
      "encoding":{
       "x":{"field":"g","type":"nominal","scale":{"domain":["D1119G","Q1139A","W1157L","R1182A","W1183L","T1184R","K1186A","K1188A","L1189R","E1198A","R1203A","R1206A","R1210A","R1215Q","WT"],"paddingInner":0.58,"paddingOuter":0.36},"axis":{"title":"CFH₁₉₋₂₀ mutants","titleFontSize":18,"titleFontWeight":"bold","titlePadding":18,"labelAngle":-90,"labelFontSize":14,"labelFontWeight":"bold","tickSize":4,"tickWidth":2,"domainWidth":2.5,"labelPadding":2}}
      },
      "layer":[
       {"mark":{"type":"bar","fill":"#ffffff","stroke":"#222","strokeWidth":1.3},
        "encoding":{"y":{"field":"v","type":"quantitative","scale":{"domain":[0,1.5],"range":[143,3],"nice":false},"axis":{"values":[0,0.5,1,1.5],"format":".1f","labelOverlap":false,"title":"Anti-IgG (A450)","titleFontSize":10.5,"titleFontWeight":"normal","titleColor":"#555","titlePadding":14,"labelFontSize":13,"labelFontWeight":"bold","tickSize":6,"tickWidth":2,"domainWidth":2.5,"labelPadding":1}}}},
       {"mark":{"type":"bar","fill":"#8c8c8c","stroke":"#222","strokeWidth":1},
        "encoding":{"y":{"field":"lo","type":"quantitative","scale":{"domain":[0,1.5],"range":[143,3],"nice":false}},"y2":{"field":"v"}}},
       {"mark":{"type":"rule","color":"#111","strokeWidth":1.6},
        "encoding":{"y":{"field":"lo","type":"quantitative","scale":{"domain":[0,1.5],"range":[143,3],"nice":false}},"y2":{"field":"hi"}}},
       {"mark":{"type":"tick","color":"#111","thickness":1.6,"size":8,"orient":"horizontal"},
        "encoding":{"y":{"field":"hi","type":"quantitative","scale":{"domain":[0,1.5],"range":[143,3],"nice":false}}}}
      ]}
    ]}
  ],
  "spacing":37,
  "resolve":{"scale":{"color":"independent","shape":"independent"},"legend":{"color":"independent","shape":"independent"}}}
]
}
